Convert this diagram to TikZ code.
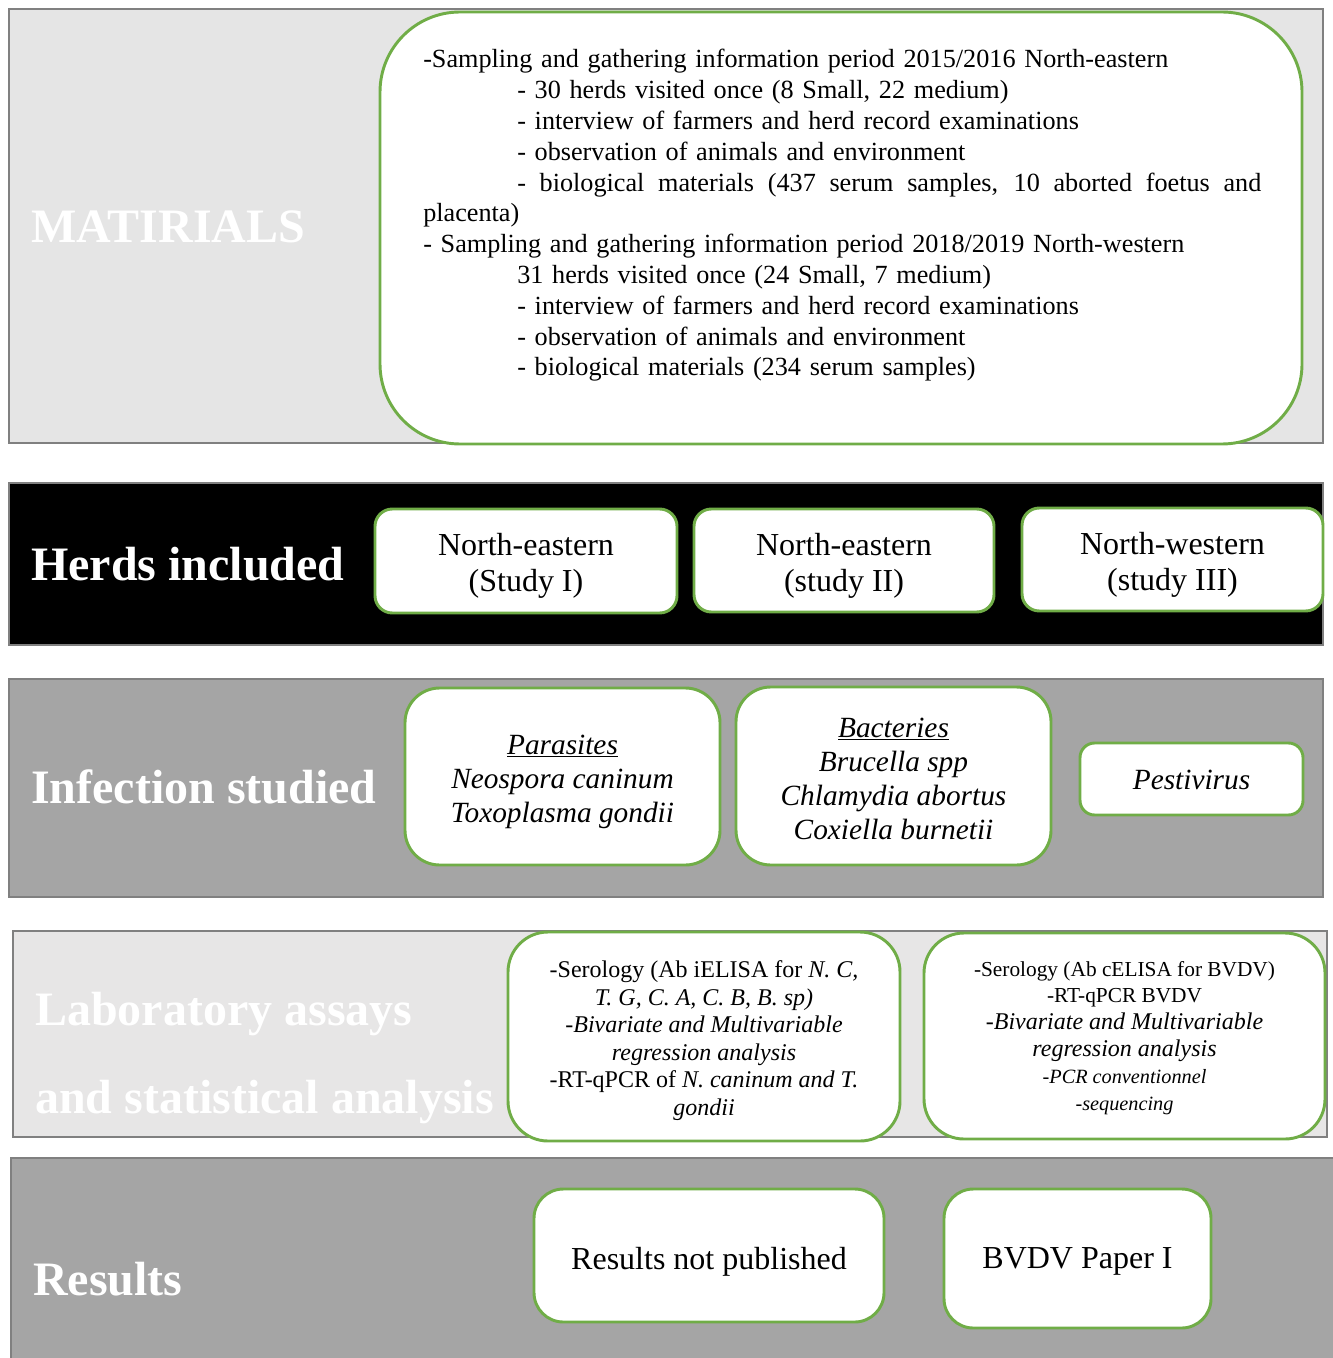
\documentclass[tikz,border=0pt]{standalone}
\usepackage{fontspec}
\setmainfont{Liberation Serif}
\definecolor{boxgreen}{HTML}{70AD47}
\definecolor{bandline}{HTML}{808080}
\definecolor{bandlight}{HTML}{E5E5E5}
\definecolor{bandlab}{HTML}{E7E6E6}
\definecolor{bandmid}{HTML}{A5A5A5}
\begin{document}
\begin{tikzpicture}[x=0.75pt,y=-0.75pt,
  band/.style={draw=bandline,line width=1.9pt},
  gbox/.style={draw=boxgreen,fill=white,line width=2.2pt,inner sep=0pt},
  boxtext/.style={align=center,inner sep=0pt},
  bandtitle/.style={text=white,font=\fontsize{36}{40}\selectfont\bfseries,inner sep=0pt,anchor=base west},
  bodytext/.style={font=\fontsize{24}{27}\selectfont}]
\useasboundingbox (0,0) rectangle (1333,1358);

% ---- Materials ----
\draw[band,fill=bandlight] (9,9) rectangle (1323,443);
\node[bandtitle] (tmat) at (31,243) {MATIRIALS};
\node[gbox,rounded corners=60pt,minimum width=691.5pt,minimum height=324pt] (mat) at (841,228) {};
\node[anchor=base west,inner sep=0pt,text width=650pt,align=left,
      font=\fontsize{19.65}{23.1}\selectfont] (mtext) at (423,68) {%
-Sampling and gathering information period 2015/2016 North-eastern\\
\hspace*{70.5pt}- 30 herds visited once (8 Small, 22 medium)\\
\hspace*{70.5pt}- interview of farmers and herd record examinations\\
\hspace*{70.5pt}- observation of animals and environment\\
\hspace*{70.5pt}{\spaceskip=0.25em plus 2em\hbox to 558pt{- biological materials (437 serum samples, 10 aborted foetus and}}\\
placenta)\\
- Sampling and gathering information period 2018/2019 North-western\\
\hspace*{70.5pt}31 herds visited once (24 Small, 7 medium)\\
\hspace*{70.5pt}- interview of farmers and herd record examinations\\
\hspace*{70.5pt}- observation of animals and environment\\
\hspace*{70.5pt}- biological materials (234 serum samples)};

% ---- Herds included ----
\draw[band,fill=black] (9,483) rectangle (1323,645);
\node[bandtitle] (therd) at (31,580) {Herds included};
\node[gbox,rounded corners=13pt,minimum width=226.5pt,minimum height=78pt] (h1) at (526,561) {};
\node[gbox,rounded corners=13pt,minimum width=225pt,minimum height=77.25pt] (h2) at (844,560.5) {};
\node[gbox,rounded corners=13pt,minimum width=225.75pt,minimum height=77.25pt] (h3) at (1172.5,559.5) {};
\node[boxtext,bodytext] (h1t) at (526,566) {North-eastern\\(Study I)};
\node[boxtext,bodytext] (h2t) at (844,565.5) {North-eastern\\(study II)};
\node[boxtext,bodytext] (h3t) at (1172.5,564.5) {North-western\\(study III)};

% ---- Infection studied ----
\draw[band,fill=bandmid] (9,679) rectangle (1323,897);
\node[bandtitle] (tinf) at (31,803) {Infection studied};
\node[gbox,rounded corners=26pt,minimum width=236.25pt,minimum height=132.75pt] (par) at (562.5,776.5) {};
\node[gbox,rounded corners=26pt,minimum width=236.25pt,minimum height=133.5pt] (bac) at (893.5,776) {};
\node[gbox,rounded corners=11pt,minimum width=167.25pt,minimum height=54pt] (pes) at (1191.5,779) {};
\begin{scope}[every node/.append style={boxtext,font=\fontsize{22}{25.5}\selectfont\itshape}]
\node (part) at (562.5,781.5) {\underline{Parasites}\\Neospora caninum\\Toxoplasma gondii};
\node (bact) at (893.5,779) {\underline{Bacteries}\\Brucella spp\\Chlamydia abortus\\Coxiella burnetii};
\node (pest) at (1191.5,780) {Pestivirus};
\end{scope}

% ---- Laboratory assays ----
\draw[band,fill=bandlab] (13,931) rectangle (1327,1137);
\node[bandtitle] (tlab1) at (35,1025) {Laboratory assays};
\node[bandtitle] (tlab2) at (35,1113) {and statistical analysis};
\node[gbox,rounded corners=30pt,minimum width=294pt,minimum height=156.75pt] (labA) at (704,1036.5) {};
\node[gbox,rounded corners=30pt,minimum width=300.75pt,minimum height=154.5pt] (labB) at (1124.5,1036) {};
\node[boxtext,font=\fontsize{18}{20.6}\selectfont] (labAt) at (704,1040.5)
  {-Serology (Ab iELISA for \textit{N. C,}\\
   \textit{T. G, C. A, C. B, B. sp)}\\
   \textit{-Bivariate and Multivariable}\\
   \textit{regression analysis}\\
   -RT-qPCR of \textit{N. caninum and T.}\\
   \textit{gondii}};
\node[boxtext,font=\fontsize{18}{20.2}\selectfont] (labBt) at (1124.5,1038)
  {{\fontsize{16}{20.2}\selectfont -Serology (Ab cELISA for BVDV)}\\
   {\fontsize{16}{20.2}\selectfont -RT-qPCR BVDV}\\
   \textit{-Bivariate and Multivariable}\\
   \textit{regression analysis}\\
   {\fontsize{15.2}{20.2}\selectfont\itshape -PCR conventionnel}\\
   {\fontsize{15.2}{20.2}\selectfont\itshape -sequencing}};

% ---- Results ----
\draw[band,fill=bandmid] (11,1158) rectangle (1345,1370);
\node[bandtitle] (tres) at (33,1295) {Results};
\node[gbox,rounded corners=22pt,minimum width=262.5pt,minimum height=99.75pt] (r1) at (709,1255.5) {};
\node[gbox,rounded corners=22pt,minimum width=200.25pt,minimum height=104.25pt] (r2) at (1077.5,1258.5) {};
\node[boxtext,bodytext] (r1t) at (709,1261.5) {Results not published};
\node[boxtext,bodytext] (r2t) at (1077.5,1261.5) {BVDV Paper I};
\end{tikzpicture}
\end{document}
